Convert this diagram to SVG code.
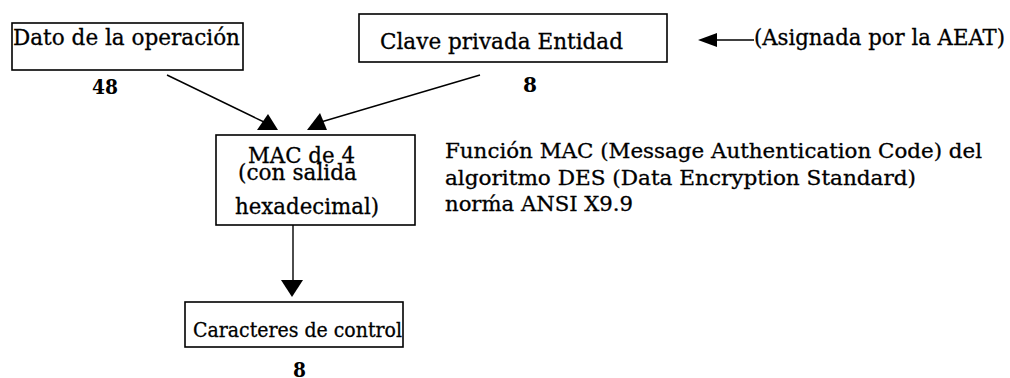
<svg xmlns="http://www.w3.org/2000/svg" width="1010" height="378" viewBox="0 0 1010 378">
<style>
.box{fill:#fff;stroke:#000;stroke-width:1.6}
.t{font-family:"DejaVu Serif","Liberation Serif",serif;font-size:21.5px;fill:#000;stroke:#000;stroke-width:0.3}
.s{font-family:"DejaVu Serif","Liberation Serif",serif;font-size:19.5px;fill:#000;stroke:#000;stroke-width:0.3}
.n{font-family:"DejaVu Serif","Liberation Serif",serif;font-size:21px;font-weight:bold;fill:#000}
.ln{stroke:#000;stroke-width:1.4;fill:none}
.hd{fill:#000}
</style>
<rect width="1010" height="378" fill="#fff"/>
<g id="node-dato">
<rect class="box" x="12" y="23" width="231" height="47"/>
<text class="t" x="13" y="45" textLength="227" lengthAdjust="spacingAndGlyphs">Dato de la operación</text>
<text class="n" x="92" y="94" textLength="26" lengthAdjust="spacingAndGlyphs">48</text>
</g>
<g id="node-clave">
<rect class="box" x="359" y="14" width="308" height="48"/>
<text class="t" x="380" y="49" textLength="243" lengthAdjust="spacingAndGlyphs">Clave privada Entidad</text>
<text class="n" x="523" y="92" textLength="14" lengthAdjust="spacingAndGlyphs">8</text>
</g>
<g id="note-aeat">
<text class="t" x="754" y="45" textLength="251" lengthAdjust="spacingAndGlyphs">(Asignada por la AEAT)</text>
</g>
<g id="node-mac">
<rect class="box" x="216" y="135" width="199" height="90"/>
<text class="t" x="248" y="163" textLength="107" lengthAdjust="spacingAndGlyphs">MAC de 4</text>
<text class="t" x="238" y="180" textLength="119" lengthAdjust="spacingAndGlyphs">(con salida</text>
<text class="t" x="235" y="214" textLength="144" lengthAdjust="spacingAndGlyphs">hexadecimal)</text>
</g>
<g id="note-mac">
<text class="s" x="445" y="158" textLength="537" lengthAdjust="spacingAndGlyphs">Función MAC (Message Authentication Code) del</text>
<text class="s" x="445" y="185" textLength="471" lengthAdjust="spacingAndGlyphs">algoritmo DES (Data Encryption Standard)</text>
<text class="s" x="445" y="211" textLength="188" lengthAdjust="spacingAndGlyphs">norḿa ANSI X9.9</text>
</g>
<g id="node-caracteres">
<rect class="box" x="185" y="302" width="218" height="45"/>
<text class="t" x="193" y="337" textLength="209" lengthAdjust="spacingAndGlyphs" style="font-size:20px">Caracteres de control</text>
<text class="n" x="293" y="377" textLength="13" lengthAdjust="spacingAndGlyphs">8</text>
</g>
<g id="connectors">
<line class="ln" x1="167" y1="75" x2="264" y2="122"/>
<polygon class="hd" points="268,114 257,130 278,130"/>
<line class="ln" x1="480" y1="75" x2="321" y2="122"/>
<polygon class="hd" points="320,113 307,130 327,130"/>
<line class="ln" x1="293" y1="225" x2="293" y2="282"/>
<polygon class="hd" points="281,280 303,280 292,297"/>
<line class="ln" x1="714" y1="40" x2="754" y2="40"/>
<polygon class="hd" points="698,40 717,33 717,47"/>
</g>
</svg>
